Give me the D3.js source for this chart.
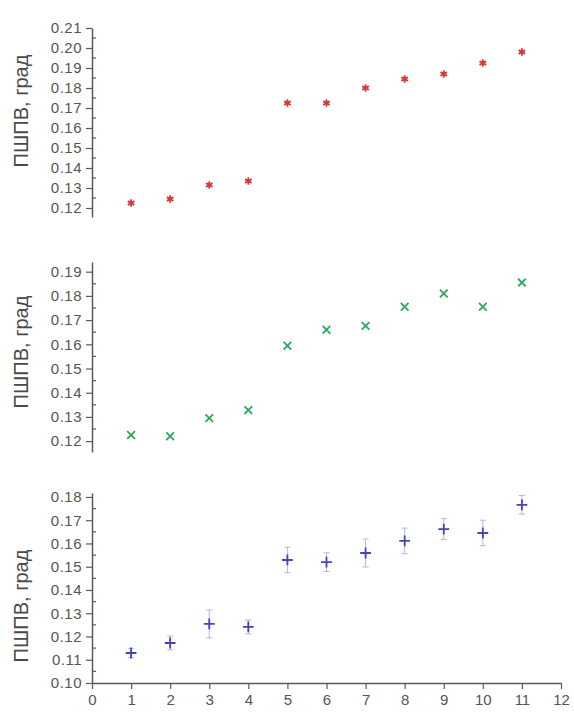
<!DOCTYPE html>
<html>
<head>
<meta charset="utf-8">
<script src="https://cdn.jsdelivr.net/npm/d3@7"></script>
<style>
  html, body { margin: 0; padding: 0; background: #fff; }
  svg { display: block; }
</style>
</head>
<body>
<svg id="chart" width="574" height="717"></svg>
<script>
// Measurement index along the shared x axis
const trials = [1, 2, 3, 4, 5, 6, 7, 8, 9, 10, 11];
const xTicks = [0, 1, 2, 3, 4, 5, 6, 7, 8, 9, 10, 11, 12];

// FWHM values, degrees, for the three series
const redValues   = [0.1225, 0.1245, 0.1315, 0.1335, 0.1725, 0.1725, 0.1800, 0.1845, 0.1870, 0.1925, 0.1980];
const greenValues = [0.1225, 0.1220, 0.1295, 0.1328, 0.1594, 0.1660, 0.1676, 0.1755, 0.1810, 0.1755, 0.1855];
const blueValues  = [0.1129, 0.1172, 0.1254, 0.1241, 0.1529, 0.1520, 0.1559, 0.1611, 0.1662, 0.1645, 0.1766];
const blueErrors  = [0.0020, 0.0030, 0.0060, 0.0030, 0.0055, 0.0040, 0.0060, 0.0055, 0.0045, 0.0055, 0.0040];

// Tick values of each panel's y axis
const redTicks   = [0.12, 0.13, 0.14, 0.15, 0.16, 0.17, 0.18, 0.19, 0.20, 0.21];
const greenTicks = [0.12, 0.13, 0.14, 0.15, 0.16, 0.17, 0.18, 0.19];
const blueTicks  = [0.10, 0.11, 0.12, 0.13, 0.14, 0.15, 0.16, 0.17, 0.18];

const yTitle = "ПШПВ, град";

const svg = d3.select("#chart");
const axisColor = "#5a5a5a";
const textColor = "#555";
const font = "Liberation Sans, Arial, sans-serif";

const x = d3.scaleLinear().domain([0, 12]).range([92, 561]);

const panels = [
  { values: redValues, ticks: redTicks, domain: [0.1155, 0.21], range: [217, 28],
    color: "#d23a3a", symbol: d3.symbolAsterisk, titleY: 111 },
  { values: greenValues, ticks: greenTicks, domain: [0.1155, 0.194], range: [452, 262],
    color: "#2aa860", symbol: d3.symbolTimes, titleY: 352 },
  { values: blueValues, ticks: blueTicks, domain: [0.10, 0.1817], range: [683, 493],
    color: "#4444b8", symbol: d3.symbolPlus, titleY: 606, errors: blueErrors, xAxis: true }
];

panels.forEach(p => {
  const y = d3.scaleLinear().domain(p.domain).range(p.range);
  const g = svg.append("g");

  // y axis: major ticks outward with labels
  const yAxis = g.append("g")
    .attr("transform", `translate(${x(0)},0)`)
    .call(d3.axisLeft(y).tickValues(p.ticks).tickFormat(d3.format(".2f"))
      .tickSize(6).tickPadding(4).tickSizeOuter(0));
  yAxis.select(".domain").attr("stroke", axisColor).attr("stroke-width", 1.5);
  yAxis.selectAll(".tick line").attr("stroke", axisColor).attr("stroke-width", 1.2);
  yAxis.selectAll(".tick text")
    .attr("fill", textColor).style("font-family", font).style("font-size", "15px")
    .style("letter-spacing", "0.5px");

  // minor ticks halfway between majors, pointing inward
  const minors = d3.range(p.ticks[0] - 0.005, p.ticks[p.ticks.length - 1] + 0.0001, 0.01)
    .filter(v => v >= p.domain[0] && v <= p.domain[1]);
  g.append("g").selectAll("line").data(minors).join("line")
    .attr("x1", x(0)).attr("x2", x(0) + 4)
    .attr("y1", d => y(d)).attr("y2", d => y(d))
    .attr("stroke", axisColor).attr("stroke-width", 1.2);

  // axis title
  g.append("text")
    .attr("transform", `translate(28,${p.titleY}) rotate(-90)`)
    .attr("text-anchor", "middle")
    .attr("fill", "#4a4a4a")
    .style("font-family", font).style("font-size", "20px")
    .text(yTitle);

  // error bars
  if (p.errors) {
    const eb = g.append("g").attr("stroke", "#b4b6e0").attr("stroke-width", 1);
    eb.selectAll("line.v").data(trials).join("line").attr("class", "v")
      .attr("x1", d => x(d)).attr("x2", d => x(d))
      .attr("y1", (d, i) => y(p.values[i] - p.errors[i]))
      .attr("y2", (d, i) => y(p.values[i] + p.errors[i]));
    ["-", "+"].forEach(sign => {
      eb.selectAll(`line.c${sign === "-" ? "lo" : "hi"}`).data(trials).join("line")
        .attr("class", `c${sign === "-" ? "lo" : "hi"}`)
        .attr("x1", d => x(d) - 3).attr("x2", d => x(d) + 3)
        .attr("y1", (d, i) => y(p.values[i] + (sign === "-" ? -1 : 1) * p.errors[i]))
        .attr("y2", (d, i) => y(p.values[i] + (sign === "-" ? -1 : 1) * p.errors[i]));
    });
  }

  // markers
  const sym = d3.symbol().type(p.symbol).size(40);
  g.append("g").selectAll("path").data(trials).join("path")
    .attr("transform", (d, i) => `translate(${x(d)},${y(p.values[i])})`)
    .attr("d", sym)
    .attr("fill", "none")
    .attr("stroke", p.color)
    .attr("stroke-width", 1.8);

  // shared x axis under the lowest panel
  if (p.xAxis) {
    const xAxis = g.append("g")
      .attr("transform", `translate(0,${p.range[0]})`)
      .call(d3.axisBottom(x).tickValues(xTicks).tickFormat(d3.format("d"))
        .tickSize(6).tickPadding(5).tickSizeOuter(0));
    xAxis.select(".domain").attr("stroke", axisColor).attr("stroke-width", 1.5);
    xAxis.selectAll(".tick line").attr("stroke", axisColor).attr("stroke-width", 1.2);
    xAxis.selectAll(".tick text")
      .attr("fill", textColor).style("font-family", font).style("font-size", "15px");
  }
});
</script>
</body>
</html>
